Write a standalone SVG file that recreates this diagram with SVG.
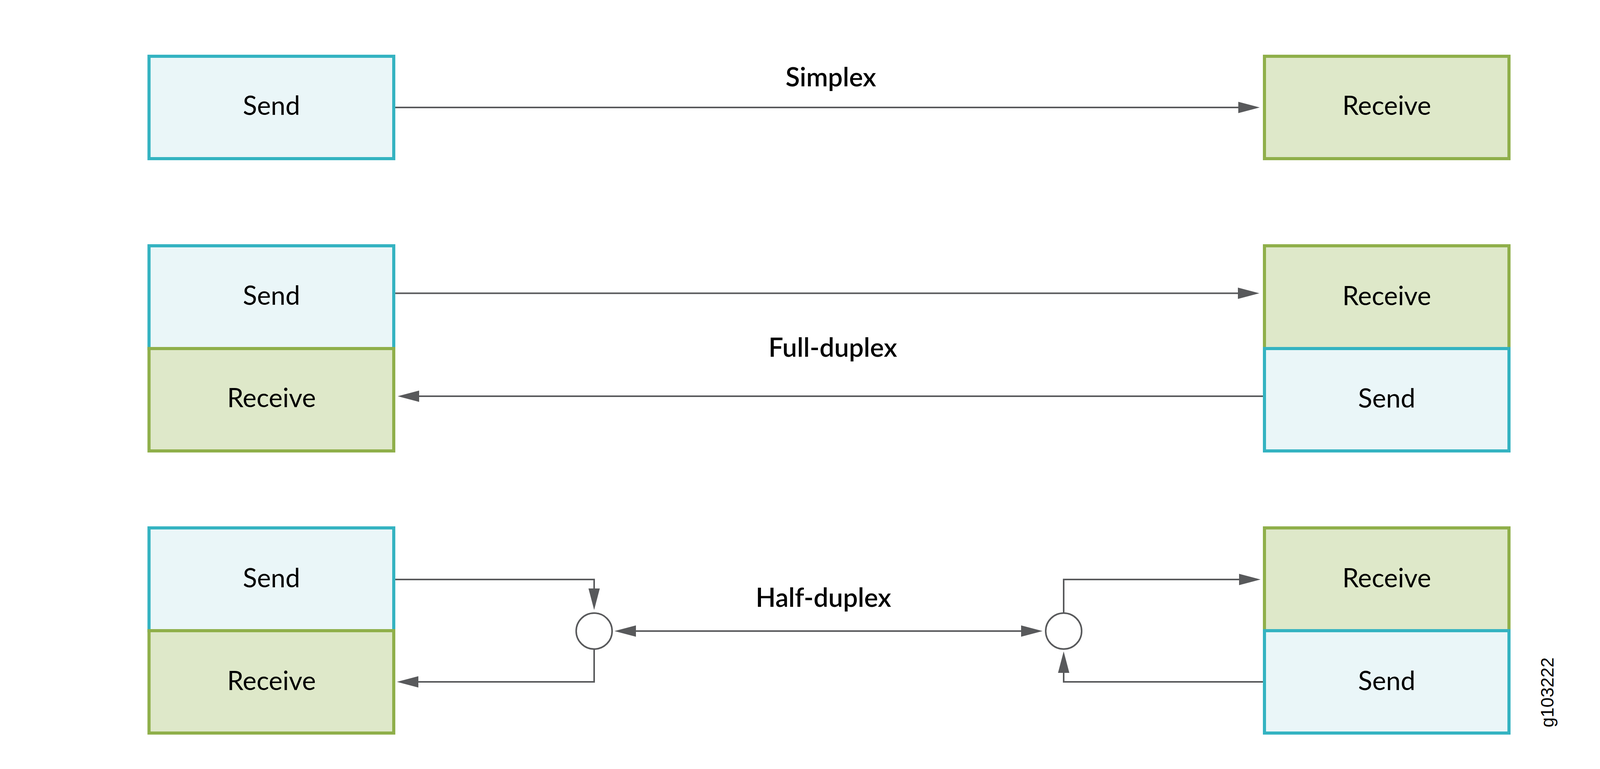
<svg xmlns="http://www.w3.org/2000/svg" width="4200" height="1968" viewBox="0 0 4200 1968">
<defs>
<style>
.send{fill:#eaf6f8;stroke:#34b3c1;stroke-width:8}
.recv{fill:#dee8c9;stroke:#8faf4a;stroke-width:8}
.lbl{font-family:Lato,"Liberation Sans",sans-serif;font-size:67px;fill:#000;text-anchor:middle}
.ttl{font-family:Lato,"Liberation Sans",sans-serif;font-size:67px;font-weight:600;fill:#000;text-anchor:middle}
.fig{font-family:"Liberation Sans",Arial,sans-serif;font-size:46px;fill:#000;text-anchor:middle}
.con{fill:none;stroke:#58595b;stroke-width:4}
.hub{fill:#fff;stroke:#58595b;stroke-width:4}
</style>
<marker id="ah" markerUnits="userSpaceOnUse" markerWidth="56" markerHeight="30" viewBox="0 -15 56 30" refX="0" refY="0" orient="auto-start-reverse">
<path d="M0,-14.5 L55,0 L0,14.5 Z" fill="#58595b"/>
</marker>
</defs>
<rect width="4200" height="1968" fill="#fff"/>

<g id="connectors">
<line class="con" x1="1012" y1="275" x2="3170" y2="275" marker-end="url(#ah)"/>
<line class="con" x1="1012" y1="750.5" x2="3169" y2="750.5" marker-end="url(#ah)"/>
<line class="con" x1="3233" y1="1014" x2="1073" y2="1014" marker-end="url(#ah)"/>
<polyline class="con" points="1012,1483 1521,1483 1521,1506" marker-end="url(#ah)"/>
<polyline class="con" points="1521,1661 1521,1745 1071,1745" marker-end="url(#ah)"/>
<line class="con" x1="1628" y1="1615" x2="2614" y2="1615" marker-start="url(#ah)" marker-end="url(#ah)"/>
<polyline class="con" points="2723,1569 2723,1483 3172,1483" marker-end="url(#ah)"/>
<polyline class="con" points="3233,1745 2723,1745 2723,1722" marker-end="url(#ah)"/>
</g>

<g id="simplex-send"><rect class="send" x="381.5" y="144" width="626.5" height="262"/><text class="lbl" x="695" y="294">Send</text></g>
<g id="simplex-receive"><rect class="recv" x="3237" y="144" width="626" height="262"/><text class="lbl" x="3550" y="294">Receive</text></g>
<g id="simplex-label"><text class="ttl" x="2127" y="221">Simplex</text></g>

<g id="full-left-send"><rect class="send" x="381.5" y="629" width="626.5" height="263"/><text class="lbl" x="695" y="780">Send</text></g>
<g id="full-left-receive"><rect class="recv" x="381.5" y="892" width="626.5" height="262"/><text class="lbl" x="695" y="1042">Receive</text></g>
<g id="full-right-receive"><rect class="recv" x="3237" y="629" width="626" height="263"/><text class="lbl" x="3550" y="781">Receive</text></g>
<g id="full-right-send"><rect class="send" x="3237" y="892" width="626" height="262"/><text class="lbl" x="3550" y="1043">Send</text></g>
<g id="full-label"><text class="ttl" x="2132" y="913">Full-duplex</text></g>

<g id="half-left-send"><rect class="send" x="381.5" y="1351" width="626.5" height="263"/><text class="lbl" x="695" y="1503">Send</text></g>
<g id="half-left-receive"><rect class="recv" x="381.5" y="1614" width="626.5" height="262"/><text class="lbl" x="695" y="1766">Receive</text></g>
<g id="half-right-receive"><rect class="recv" x="3237" y="1351" width="626" height="263"/><text class="lbl" x="3550" y="1503">Receive</text></g>
<g id="half-right-send"><rect class="send" x="3237" y="1614" width="626" height="262"/><text class="lbl" x="3550" y="1766">Send</text></g>
<g id="half-left-switch"><circle class="hub" cx="1521" cy="1615" r="46"/></g>
<g id="half-right-switch"><circle class="hub" cx="2723" cy="1615" r="46"/></g>
<g id="half-label"><text class="ttl" x="2108" y="1553">Half-duplex</text></g>

<g id="figure-id"><text class="fig" transform="translate(3977,1772) rotate(-90)">g103222</text></g>
</svg>
